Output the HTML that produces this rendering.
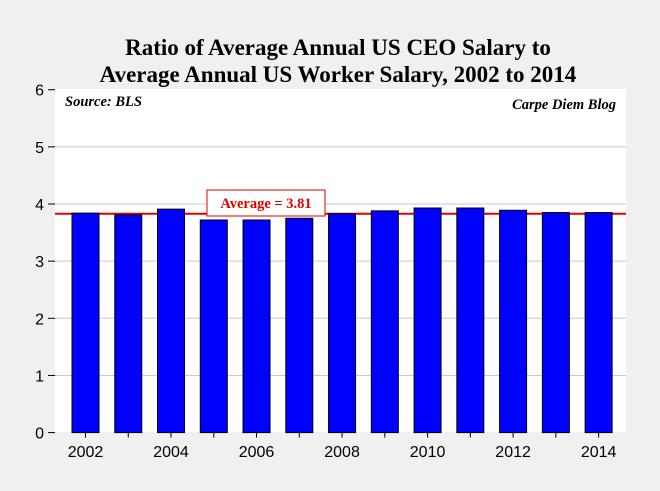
<!DOCTYPE html>
<html><head><meta charset="utf-8"><style>
body{margin:0;background:#f0f0f0;}
svg{display:block;font-family:"Liberation Sans",sans-serif;}
</style></head><body>
<svg width="660" height="491">
<rect width="660" height="491" fill="#f0f0f0"/>
<text x="338" y="55" text-anchor="middle" font-family="Liberation Serif,serif" font-weight="bold" font-size="23">Ratio of Average Annual US CEO Salary to</text>
<text x="338" y="82" text-anchor="middle" font-family="Liberation Serif,serif" font-weight="bold" font-size="23">Average Annual US Worker Salary, 2002 to 2014</text>
<rect x="55" y="89" width="571" height="343" fill="#fff"/>
<g id="grid"></g><g id="avg"></g><g id="bars"></g><g id="axes"></g>
<text x="65" y="106" font-family="Liberation Serif,serif" font-weight="bold" font-style="italic" font-size="14.5">Source: BLS</text>
<text x="616" y="109" text-anchor="end" font-family="Liberation Serif,serif" font-weight="bold" font-style="italic" font-size="14.5">Carpe Diem Blog</text>
</svg>
<script>
const years=[2002,2003,2004,2005,2006,2007,2008,2009,2010,2011,2012,2013,2014];
const ratios=[3.84,3.81,3.91,3.72,3.72,3.75,3.83,3.88,3.93,3.93,3.89,3.85,3.85];
const yTicks=[0,1,2,3,4,5,6];
const xLabels=[2002,2004,2006,2008,2010,2012,2014];
const average=[3.83];
const NS="http://www.w3.org/2000/svg";
const y0=432.6,pu=57.15;
function yS(v){return y0-v*pu;}
function xS(yr){return 85.5+(yr-2002)*42.76;}
function mk(p,t,a){const e=document.createElementNS(NS,t);for(const k in a)e.setAttribute(k,a[k]);document.getElementById(p).appendChild(e);return e;}
yTicks.forEach(v=>{
 if(v>0&&v<6){const g=mk('grid','line',{x1:55,x2:626,y1:yS(v),y2:yS(v),stroke:'#c8c8c8','stroke-width':1});
 
 }
 const t=mk('axes','line',{x1:48,x2:55,y1:yS(v),y2:yS(v),stroke:'#000'});
 
 
 const l=mk('axes','text',{x:44,y:yS(v)+6,'text-anchor':'end','font-size':16});
 l.textContent=v;
 
 
});
const al=mk('avg','line',{x1:55,x2:626,y1:yS(average[0]),y2:yS(average[0]),stroke:'#e00000','stroke-width':2});


years.forEach((yr,i)=>{
 const b=mk('bars','rect',{x:xS(yr)-13.5,y:yS(ratios[i]),width:27,height:y0-yS(ratios[i]),fill:'#0000ff',stroke:'#000','stroke-width':1});
 
 
 const t=mk('axes','line',{x1:xS(yr),x2:xS(yr),y1:y0,y2:y0+5,stroke:'#000'});
 
 
});
xLabels.forEach(yr=>{
 const l=mk('axes','text',{x:xS(yr),y:457,'text-anchor':'middle','font-size':16});
 l.textContent=yr;
 
 
});
const box=mk('axes','rect',{x:207,y:190,width:118,height:26,fill:'#fff',stroke:'#e00000','stroke-width':1});


const at=mk('axes','text',{x:266,y:208,'text-anchor':'middle','font-size':14.5,'font-weight':'bold',fill:'#e00000','font-family':'Liberation Serif,serif'});
at.textContent='Average = 3.81';


</script>
</body></html>
